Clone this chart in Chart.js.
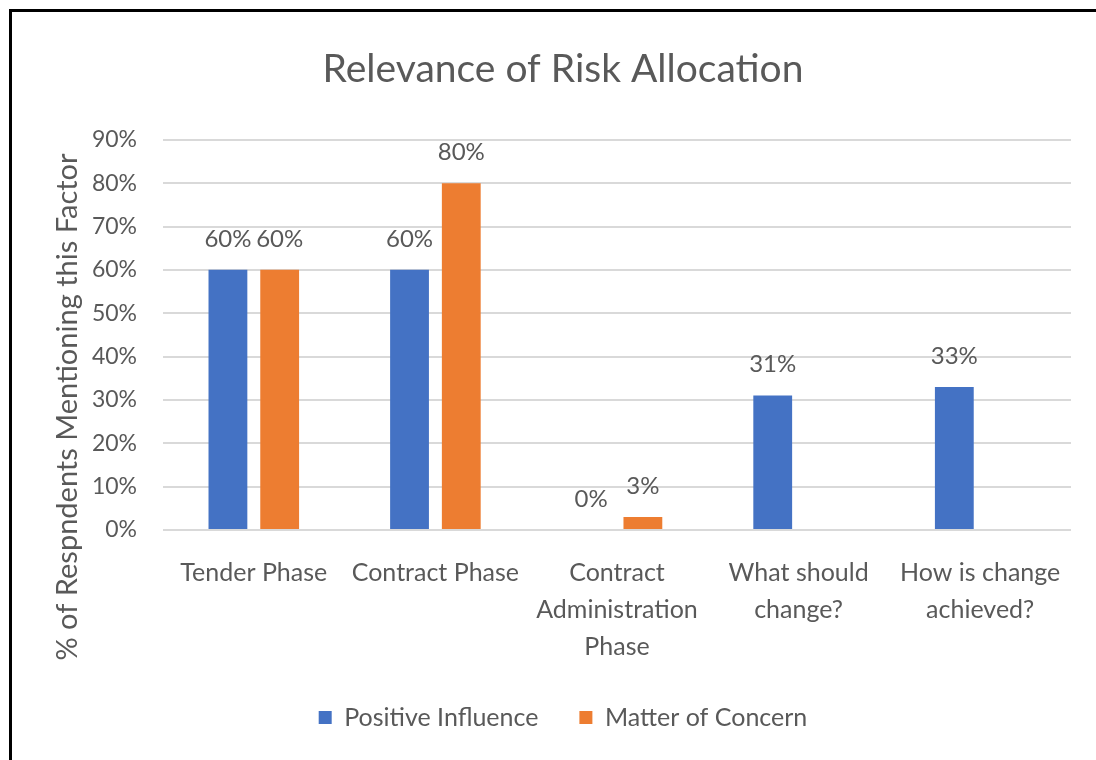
<!DOCTYPE html>
<html>
<head>
<meta charset="utf-8">
<script src="https://cdn.jsdelivr.net/npm/chart.js@4.4.1/dist/chart.umd.min.js"></script>
<style>
  html, body { margin: 0; padding: 0; background: #fff; }
  .page { position: relative; width: 1096px; height: 760px; overflow: hidden; }
  .frame { position: absolute; left: 9px; top: 9px; right: 0; bottom: 0;
           border-top: 3px solid #000; border-left: 3px solid #000; }
  #chart { position: absolute; left: 0; top: 0; }
</style>
</head>
<body>
<div class="page">
  <div class="frame"></div>
  <canvas id="chart" width="1096" height="760"></canvas>
</div>
<script>
// chart data
const categories = [
  'Tender Phase',
  'Contract Phase',
  ['Contract', 'Administration', 'Phase'],
  ['What should', 'change?'],
  ['How is change', 'achieved?']
];
const positiveInfluence = [60, 60, 0, 31, 33];
const matterOfConcern = [60, 80, 3, null, null];
const yTicks = [0, 10, 20, 30, 40, 50, 60, 70, 80, 90];

const textGray = '#595959';
const fontFamily = 'Lato, "Open Sans", sans-serif';

// value labels above the bars + rotated y title
const extras = {
  id: 'extras',
  afterDatasetsDraw(chart) {
    const ctx = chart.ctx;
    ctx.save();
    ctx.fillStyle = textGray;
    ctx.font = '24px ' + fontFamily;
    ctx.textAlign = 'center';
    ctx.textBaseline = 'middle';
    chart.data.datasets.forEach((ds, i) => {
      const meta = chart.getDatasetMeta(i);
      meta.data.forEach((bar, j) => {
        const v = ds.data[j];
        if (v === null || v === undefined) return;
        ctx.fillText(v + '%', bar.x, bar.y - 31);
      });
    });
    // y axis title
    ctx.font = '29px ' + fontFamily;
    ctx.translate(68, 407);
    ctx.rotate(-Math.PI / 2);
    ctx.fillText('% of Respndents Mentioning this Factor', 0, 0);
    ctx.restore();
  }
};

new Chart(document.getElementById('chart'), {
  type: 'bar',
  data: {
    labels: categories,
    datasets: [
      {
        label: 'Positive Influence',
        data: positiveInfluence,
        backgroundColor: '#4472C4',
        categoryPercentage: 0.57,
        barPercentage: 0.75
      },
      {
        label: 'Matter of Concern',
        data: matterOfConcern,
        backgroundColor: '#ED7D31',
        categoryPercentage: 0.57,
        barPercentage: 0.75
      }
    ]
  },
  options: {
    responsive: false,
    animation: false,
    layout: { padding: { left: 55, right: 25, top: 0, bottom: 20 } },
    plugins: {
      title: {
        display: true,
        text: 'Relevance of Risk Allocation',
        color: textGray,
        font: { family: fontFamily, size: 39, weight: 'normal', lineHeight: 1.2 },
        padding: { top: 46, bottom: 47 }
      },
      legend: {
        position: 'bottom',
        labels: {
          color: textGray,
          font: { family: fontFamily, size: 25 },
          boxWidth: 13,
          boxHeight: 13,
          padding: 41
        }
      },
      tooltip: { enabled: false }
    },
    scales: {
      x: {
        grid: { display: false },
        border: { display: false },
        ticks: {
          color: textGray,
          font: { family: fontFamily, size: 25, lineHeight: 1.48 },
          maxRotation: 0,
          autoSkip: false,
          padding: 16
        },
        afterFit(scale) { scale.height = 134; }
      },
      y: {
        min: 0,
        max: 90,
        afterBuildTicks(scale) { scale.ticks = yTicks.map(v => ({ value: v })); },
        grid: { color: '#d9d9d9', lineWidth: 2, drawTicks: false },
        border: { display: false },
        ticks: {
          color: textGray,
          font: { family: fontFamily, size: 23 },
          padding: 26,
          callback: v => v + '%'
        },
        afterFit(scale) { scale.width = 108; }
      }
    }
  },
  plugins: [extras]
});
</script>
</body>
</html>
